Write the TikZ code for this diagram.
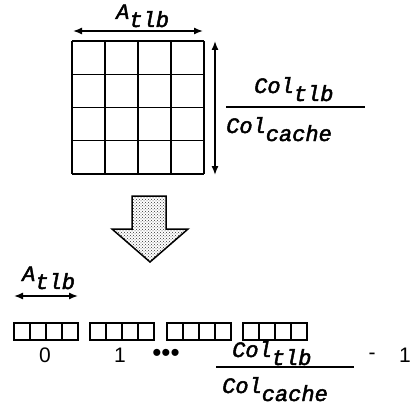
\documentclass[tikz,border=0pt]{standalone}
\usepackage{fontspec}
\newfontfamily\cour[FakeBold=2.2]{Liberation Mono}
\newfontfamily\hsans{Liberation Sans}
\usetikzlibrary{arrows.meta,patterns}
\newcommand{\csub}[2]{{\cour\itshape\fontsize{22}{22}\selectfont #1\raisebox{-8pt}{#2}}}
\begin{document}
\begin{tikzpicture}[x=1pt,y=-1pt,
  lw/.style={line width=1.4pt},
  darr/.style={lw,{Latex[length=9pt,width=7pt]}-{Latex[length=9pt,width=7pt]}},
  lbl/.style={anchor=base west,inner sep=0pt},
  num/.style={font=\hsans\fontsize{21}{21}\selectfont,inner sep=0pt}]
\useasboundingbox (0,0) rectangle (415,420);
% grid
\foreach \i in {0,...,4}{
  \draw[lw] (72+33*\i,41) -- (72+33*\i,174);
  \draw[lw] (72,41+33.25*\i) -- (204,41+33.25*\i);
}
\coordinate (tl) at (73,31); \coordinate (tr) at (203,31);
\draw[darr] (tl) -- (tr);
\node[lbl] (at1) at (116,19) {\csub{A}{tlb}};
\coordinate (vt) at (215,41); \coordinate (vb) at (215,175);
\draw[darr] (vt) -- (vb);
% top fraction
\coordinate (f1l) at (226,107); \coordinate (f1r) at (365,107);
\draw[lw] (f1l) -- (f1r);
\node[lbl] (cn1) at (254,93) {\csub{Col}{tlb}};
\node[lbl] (cd1) at (226,133) {\csub{Col}{cache}};
% big arrow
\draw[line width=1.5pt, pattern=crosshatch dots, pattern color=black!80]
  (132,196) -- (166,196) -- (166,229) -- (188,229) -- (150,262) -- (112,229) -- (132,229) -- cycle;
% bottom label
\node[lbl] (at2) at (22,281) {\csub{A}{tlb}};
\coordinate (bl) at (14,296); \coordinate (br) at (78,296);
\draw[darr] (bl) -- (br);
% boxes
\foreach \gx in {14,90,167,243}{
  \foreach \j in {0,...,4}{
    \draw[line width=1.2pt] (\gx+16*\j,323) -- (\gx+16*\j,340);
  }
  \draw[line width=1.2pt] (\gx,323) rectangle (\gx+64,340);
}
% indices
\node[num] (n0) at (45,355) {0};
\node[num] (n1) at (120,355) {1};
\node[num,font=\hsans\fontsize{26}{26}\selectfont] (dots) at (166,355) {\textbullet\textbullet\textbullet};
\coordinate (f2l) at (216,367); \coordinate (f2r) at (354,367);
\draw[lw] (f2l) -- (f2r);
\node[lbl] (cn2) at (232,357) {\csub{Col}{tlb}};
\node[lbl] (cd2) at (222,393) {\csub{Col}{cache}};
\node[num] (minus) at (372,356) {-};
\node[num] (n2) at (405,355) {1};
\end{tikzpicture}
\end{document}
